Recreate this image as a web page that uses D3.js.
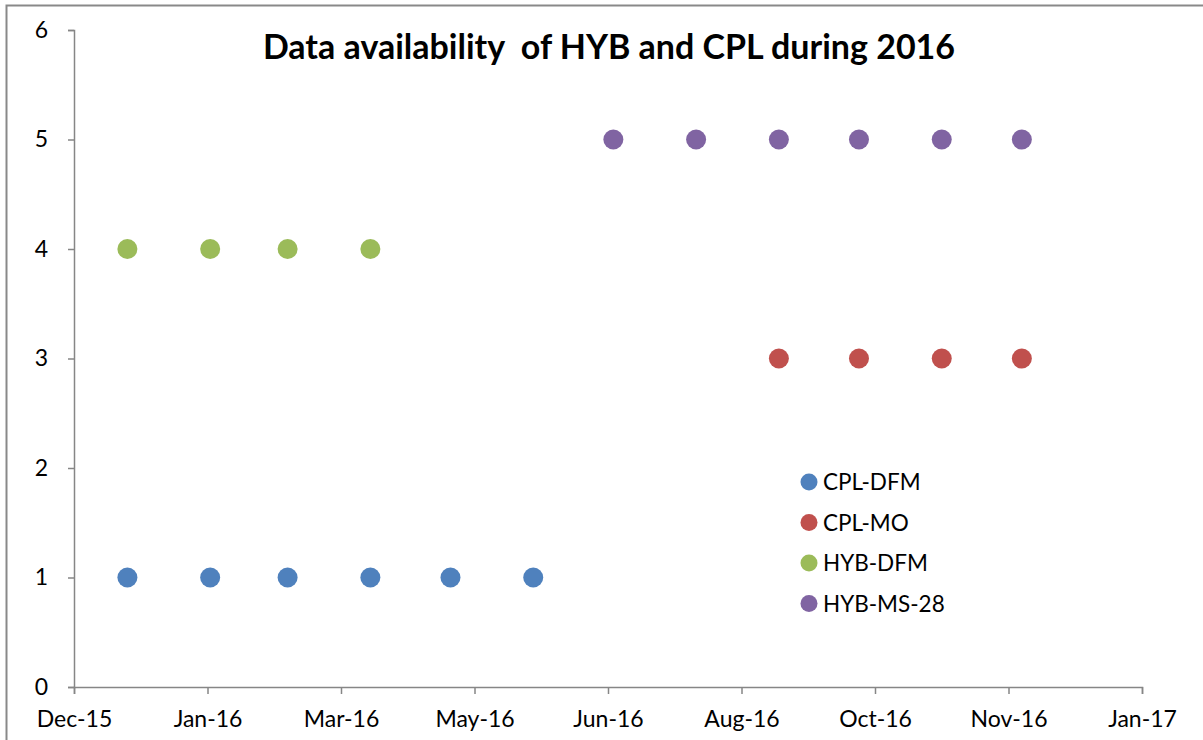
<!DOCTYPE html>
<html><head><meta charset="utf-8">
<script src="https://cdn.jsdelivr.net/npm/d3@7"></script>
<style>body{margin:0;background:#fff}svg{display:block}text{font-family:Lato,"Open Sans",sans-serif}</style>
</head><body><svg id="c" width="1203" height="740"></svg>
<script>
const seriesNames = ["CPL-DFM","CPL-MO","HYB-DFM","HYB-MS-28"];
const seriesColors = ["#4F81BD","#C0504D","#9BBB59","#8064A2"];
const cplDfmDates = ["2016-01-01","2016-02-01","2016-03-01","2016-04-01","2016-05-01","2016-06-01"];
const cplDfmValues = [1,1,1,1,1,1];
const cplMoDates = ["2016-09-01","2016-10-01","2016-11-01","2016-12-01"];
const cplMoValues = [3,3,3,3];
const hybDfmDates = ["2016-01-01","2016-02-01","2016-03-01","2016-04-01"];
const hybDfmValues = [4,4,4,4];
const hybMsDates = ["2016-07-01","2016-08-01","2016-09-01","2016-10-01","2016-11-01","2016-12-01"];
const hybMsValues = [5,5,5,5,5,5];
const xTickDates = ["2015-12-12","2016-01-31","2016-03-21","2016-05-10","2016-06-29","2016-08-18","2016-10-07","2016-11-26","2017-01-15"];
const yTicks = [0,1,2,3,4,5,6];
const title = "Data availability  of HYB and CPL during 2016";

const parse = d3.utcParse("%Y-%m-%d");
const svg = d3.select("#c");
svg.append("rect").attr("x",6.5).attr("y",5.5).attr("width",1250).attr("height",800)
  .attr("fill","none").attr("stroke","#898989").attr("stroke-width",2);

const x = d3.scaleUtc().domain([parse(xTickDates[0]), parse(xTickDates[xTickDates.length-1])]).range([74,1142]);
const y = d3.scaleLinear().domain([0,6]).range([687,30]);
const axisColor = "#868686";

const gx = svg.append("g").attr("transform","translate(0,687)")
  .call(d3.axisBottom(x).tickValues(xTickDates.map(parse)).tickFormat(d3.utcFormat("%b-%y")).tickSizeOuter(0).tickSize(7).tickPadding(17));
const gy = svg.append("g").attr("transform","translate(74,0)")
  .call(d3.axisLeft(y).tickValues(yTicks).tickFormat(d3.format("d")).tickSizeOuter(0).tickSize(6).tickPadding(20));
[gx,gy].forEach(g=>{
  g.selectAll("path,line").attr("stroke",axisColor).attr("stroke-width",1.5);
  g.selectAll("text").attr("fill","#000").style("font-size","23px").style("font-family","Lato,'Open Sans',sans-serif");
});
gx.selectAll("text").attr("dy","0.71em");

const all = [
  [cplDfmDates,cplDfmValues],[cplMoDates,cplMoValues],[hybDfmDates,hybDfmValues],[hybMsDates,hybMsValues]
];
all.forEach(([ds,vs],i)=>{
  svg.append("g").selectAll("circle").data(ds.map((d,j)=>({d:parse(d),v:vs[j]}))).join("circle")
    .attr("cx",p=>x(p.d)).attr("cy",p=>y(p.v)).attr("r",10).attr("fill",seriesColors[i]);
});

svg.append("text").attr("x",609).attr("y",59).attr("text-anchor","middle")
  .style("font-size","34px").style("font-weight","bold").style("white-space","pre").text(title);

const lg = svg.append("g");
seriesNames.forEach((n,i)=>{
  const yy = 482 + i*40.5;
  lg.append("circle").attr("cx",809).attr("cy",yy).attr("r",8.5).attr("fill",seriesColors[i]);
  lg.append("text").attr("x",823).attr("y",yy).attr("dy","0.36em").style("font-size","22.5px").text(n);
});
</script></body></html>
